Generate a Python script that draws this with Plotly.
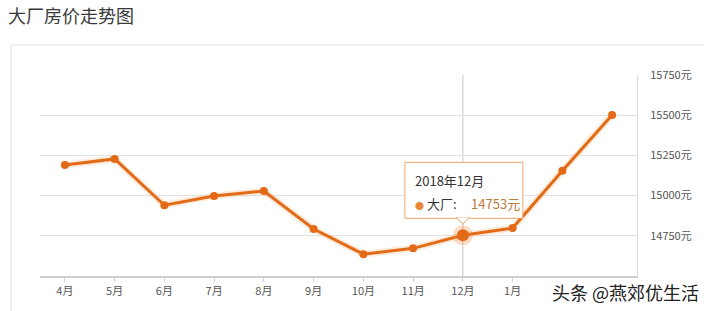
import plotly.graph_objects as go

months = ["4月", "5月", "6月", "7月", "8月", "9月", "10月", "11月", "12月", "1月", "2月", "3月"]
prices = [15190, 15228, 14940, 14998, 15028, 14792, 14636, 14672, 14753, 14798, 15154, 15502]
visible_month_labels = months[:10]  # 2月/3月 labels are hidden under the watermark in the original
y_ticks = [14750, 15000, 15250, 15500, 15750]
y_labels = [f"{v}元" for v in y_ticks]
hl_idx = 8
hl_label = "2018年12月"
series_name = "大厂"

LINE = "#e36a17"
FONT = "Noto Sans CJK SC"

fig = go.Figure()
# soft glow under the line
fig.add_trace(go.Scatter(x=months, y=prices, mode="lines",
                         line=dict(color="rgba(245,150,70,0.18)", width=7),
                         hoverinfo="skip", showlegend=False))
fig.add_trace(go.Scatter(x=months, y=prices, mode="lines+markers",
                         line=dict(color=LINE, width=3),
                         marker=dict(color=LINE, size=8),
                         showlegend=False))
# highlighted point
fig.add_trace(go.Scatter(x=[months[hl_idx]], y=[prices[hl_idx]], mode="markers",
                         marker=dict(color="rgba(245,140,60,0.3)", size=20),
                         showlegend=False, hoverinfo="skip"))
fig.add_trace(go.Scatter(x=[months[hl_idx]], y=[prices[hl_idx]], mode="markers",
                         marker=dict(color=LINE, size=12),
                         showlegend=False, hoverinfo="skip"))

shapes = []
# crosshair
shapes.append(dict(type="line", xref="x", yref="paper", x0=months[hl_idx], x1=months[hl_idx],
                   y0=0, y1=1, line=dict(color="#c8c8c8", width=1), layer="below"))
# card border
shapes.append(dict(type="path", xref="paper", yref="paper",
                   path="M -0.0483,-0.2 L -0.0483,1.149 L 1.2,1.149",
                   line=dict(color="#e2e2e2", width=1)))
# tooltip box
shapes.append(dict(type="rect", xref="x", yref="y", xsizemode="pixel", ysizemode="pixel",
                   xanchor=months[hl_idx], yanchor=prices[hl_idx],
                   x0=-58, x1=60, y0=17, y1=73,
                   fillcolor="rgba(255,255,255,0.95)", line=dict(color="#eba46a", width=1)))
shapes.append(dict(type="path", xref="x", yref="y", xsizemode="pixel", ysizemode="pixel",
                   xanchor=months[hl_idx], yanchor=prices[hl_idx],
                   path="M -6,17.5 L 0,11 L 6,17.5 Z",
                   fillcolor="white", line=dict(color="#eba46a", width=1)))
shapes.append(dict(type="line", xref="x", yref="y", xsizemode="pixel", ysizemode="pixel",
                   xanchor=months[hl_idx], yanchor=prices[hl_idx],
                   x0=-5, x1=5, y0=17, y1=17,
                   line=dict(color="white", width=1.5)))

annotations = [
    dict(x=months[hl_idx], y=prices[hl_idx], xref="x", yref="y", showarrow=False,
         text=hl_label, xanchor="left", yanchor="middle", xshift=-50, yshift=55,
         font=dict(family=FONT, size=13, color="#333")),
    dict(x=months[hl_idx], y=prices[hl_idx], xref="x", yref="y", showarrow=False,
         text=f"<span style='color:#e8873a;font-size:9px'>●</span> {series_name}:     "
              f"<span style='color:#c07a3a'>{prices[hl_idx]}元</span>",
         xanchor="left", yanchor="middle", xshift=-50, yshift=32,
         font=dict(family=FONT, size=13, color="#333")),
    dict(x=1.107, y=-0.08, xref="paper", yref="paper", showarrow=False,
         text="头条 @燕郊优生活", xanchor="right", yanchor="middle",
         font=dict(family=FONT, size=18, color="#222")),
]

fig.update_layout(
    width=704, height=311,
    margin=dict(l=40, r=64, t=75, b=35),
    paper_bgcolor="white", plot_bgcolor="white",
    font=dict(family=FONT, size=11, color="#555"),
    title=dict(text="大厂房价走势图", x=8/704, xanchor="left", y=1-17/311, yanchor="middle",
               font=dict(family=FONT, size=18, color="#3a3a3a")),
    xaxis=dict(type="category", categoryorder="array", categoryarray=months,
               range=[-0.5, len(months) - 0.5], showgrid=False,
               tickvals=visible_month_labels, ticktext=visible_month_labels,
               showline=True, linecolor="#cfcfcf", linewidth=1.5,
               ticks="outside", ticklen=4, tickcolor="#d5d5d5",
               tickfont=dict(family=FONT, size=11, color="#555"), fixedrange=True),
    yaxis=dict(range=[14500, 15750], side="right", tickvals=y_ticks, ticktext=y_labels,
               showgrid=True, gridcolor="#e3e3e3", gridwidth=1, zeroline=False,
               showline=True, linecolor="#dcdcdc", linewidth=1, ticks="", ticklabelstandoff=10,
               tickfont=dict(family=FONT, size=11, color="#555"), fixedrange=True),
    shapes=shapes, annotations=annotations, showlegend=False,
)

fig.write_html("out.html")
